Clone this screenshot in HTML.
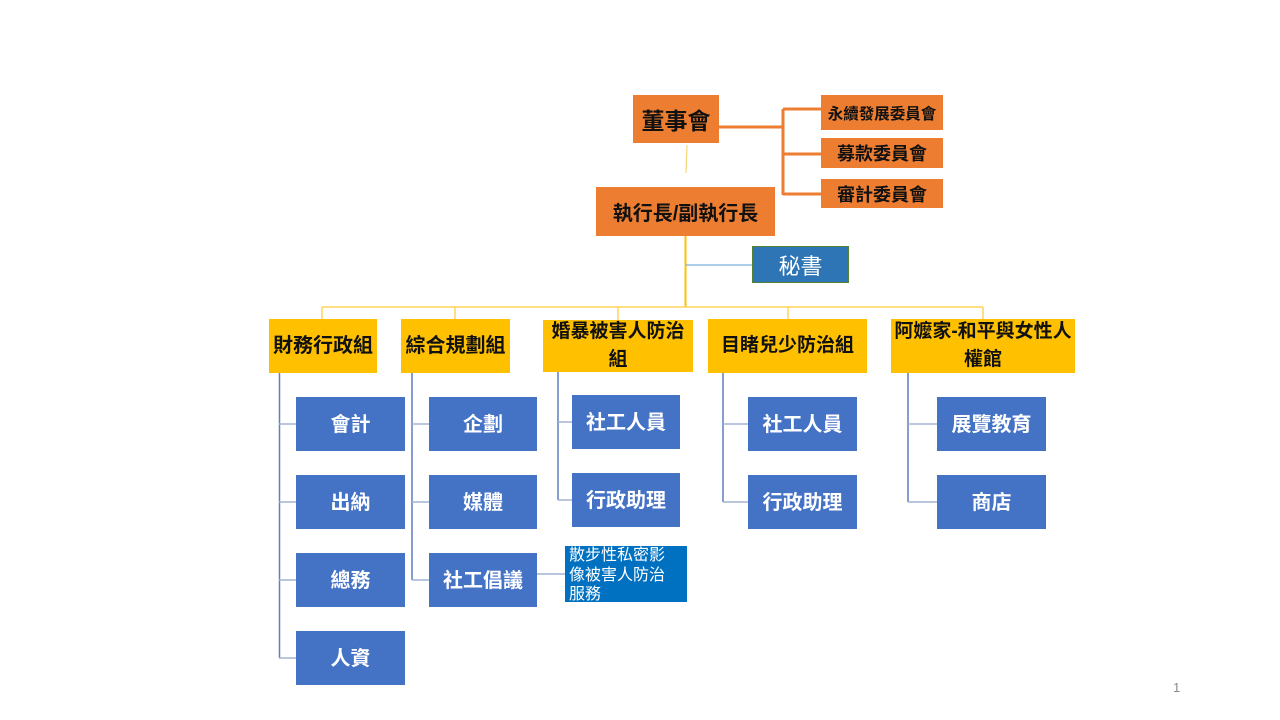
<!DOCTYPE html>
<html>
<head>
<meta charset="utf-8">
<style>
html,body{margin:0;padding:0;background:#fff;}
body{width:1280px;height:720px;position:relative;overflow:hidden;font-family:"Liberation Sans","Noto Sans CJK TC",sans-serif;}
.b{position:absolute;display:flex;align-items:center;justify-content:center;text-align:center;box-sizing:border-box;}
.o{background:#ED7D31;color:#111;font-weight:bold;}
.y{background:#FFC000;color:#111;font-weight:bold;font-size:19px;line-height:28px;}
.s{background:#4472C4;color:#fff;font-weight:bold;font-size:20px;padding-bottom:3px;}
svg{position:absolute;left:0;top:0;}
</style>
</head>
<body>
<svg width="1280" height="720">
  <g stroke="#ED7D31" stroke-width="3" fill="none">
    <line x1="719" y1="127" x2="783" y2="127"/>
    <line x1="783" y1="109" x2="783" y2="195"/>
    <line x1="783" y1="109" x2="821" y2="109"/>
    <line x1="783" y1="154" x2="821" y2="154"/>
    <line x1="783" y1="194" x2="821" y2="194"/>
  </g>
  <line x1="687" y1="145" x2="686" y2="173" stroke="#F5D77A" stroke-width="1.2"/>
  <line x1="685.5" y1="236" x2="685.5" y2="307" stroke="#FFC000" stroke-width="2"/>
  <line x1="686" y1="265" x2="752" y2="265" stroke="#5B9BD5" stroke-width="1"/>
  <g stroke="#FFD35C" stroke-width="1.5" fill="none">
    <line x1="322" y1="307" x2="983" y2="307"/>
    <line x1="322" y1="307" x2="322" y2="319"/>
    <line x1="455" y1="307" x2="455" y2="319"/>
    <line x1="618" y1="307" x2="618" y2="320"/>
    <line x1="788" y1="307" x2="788" y2="319"/>
    <line x1="983" y1="307" x2="983" y2="319"/>
  </g>
  <g stroke="#5F7FBF" stroke-width="1.5" fill="none">
    <line x1="279.5" y1="373" x2="279.5" y2="658"/>
    <line x1="412" y1="373" x2="412" y2="580"/>
    <line x1="558" y1="372" x2="558" y2="500"/>
    <line x1="723" y1="373" x2="723" y2="502"/>
    <line x1="908" y1="373" x2="908" y2="502"/>
  </g>
  <g stroke="#A3B3D2" stroke-width="1.5" fill="none">
    <line x1="279" y1="424" x2="296" y2="424"/>
    <line x1="279" y1="502" x2="296" y2="502"/>
    <line x1="279" y1="580" x2="296" y2="580"/>
    <line x1="279" y1="658" x2="296" y2="658"/>
    <line x1="412" y1="424" x2="429" y2="424"/>
    <line x1="412" y1="502" x2="429" y2="502"/>
    <line x1="412" y1="580" x2="429" y2="580"/>
    <line x1="558" y1="422" x2="572" y2="422"/>
    <line x1="558" y1="500" x2="572" y2="500"/>
    <line x1="723" y1="424" x2="748" y2="424"/>
    <line x1="723" y1="502" x2="748" y2="502"/>
    <line x1="908" y1="424" x2="937" y2="424"/>
    <line x1="908" y1="502" x2="937" y2="502"/>
    <line x1="537" y1="574" x2="565" y2="574"/>
  </g>
</svg>

<div class="b o" style="left:633px;top:95px;width:86px;height:48px;font-size:23px;">董事會</div>
<div class="b o" style="left:821px;top:95px;width:122px;height:35px;font-size:15.5px;">永續發展委員會</div>
<div class="b o" style="left:821px;top:138px;width:122px;height:30px;font-size:18px;">募款委員會</div>
<div class="b o" style="left:821px;top:179px;width:122px;height:29px;font-size:18px;">審計委員會</div>
<div class="b o" style="left:596px;top:187px;width:179px;height:49px;font-size:20px;">執行長/副執行長</div>
<div class="b" style="left:752px;top:246px;width:97px;height:37px;background:#2E75B6;border:1px solid #548235;color:#fff;font-size:22px;">秘書</div>

<div class="b y" style="left:269px;top:319px;width:108px;height:54px;font-size:20px;">財務行政組</div>
<div class="b y" style="left:401px;top:319px;width:109px;height:54px;font-size:20px;">綜合規劃組</div>
<div class="b y" style="left:543px;top:320px;width:150px;height:52px;">婚暴被害人防治<br>組</div>
<div class="b y" style="left:708px;top:319px;width:159px;height:54px;">目睹兒少防治組</div>
<div class="b y" style="left:891px;top:319px;width:184px;height:54px;">阿嬤家-和平與女性人<br>權館</div>

<div class="b s" style="left:296px;top:397px;width:109px;height:54px;">會計</div>
<div class="b s" style="left:296px;top:475px;width:109px;height:54px;">出納</div>
<div class="b s" style="left:296px;top:553px;width:109px;height:54px;">總務</div>
<div class="b s" style="left:296px;top:631px;width:109px;height:54px;">人資</div>

<div class="b s" style="left:429px;top:397px;width:108px;height:54px;">企劃</div>
<div class="b s" style="left:429px;top:475px;width:108px;height:54px;">媒體</div>
<div class="b s" style="left:429px;top:553px;width:108px;height:54px;">社工倡議</div>

<div class="b s" style="left:572px;top:395px;width:108px;height:54px;">社工人員</div>
<div class="b s" style="left:572px;top:473px;width:108px;height:54px;">行政助理</div>

<div class="b s" style="left:748px;top:397px;width:109px;height:54px;">社工人員</div>
<div class="b s" style="left:748px;top:475px;width:109px;height:54px;">行政助理</div>

<div class="b s" style="left:937px;top:397px;width:109px;height:54px;">展覽教育</div>
<div class="b s" style="left:937px;top:475px;width:109px;height:54px;">商店</div>

<div style="position:absolute;left:565px;top:546px;width:122px;height:56px;background:#0070C0;color:#fff;font-size:16px;line-height:19.5px;padding-left:4px;box-sizing:border-box;text-align:left;">散步性私密影<br>像被害人防治<br>服務</div>

<div style="position:absolute;left:1173px;top:680px;font-size:13px;color:#8a8a8a;">1</div>
</body>
</html>
